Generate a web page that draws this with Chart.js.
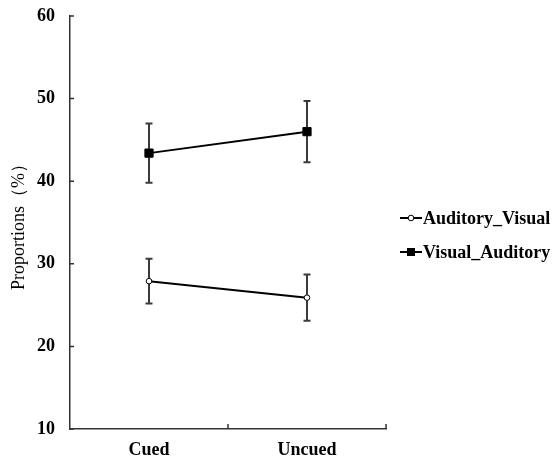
<!DOCTYPE html>
<html lang="en">
<head>
  <meta charset="UTF-8">
  <title>Proportions by cue condition</title>
  <script src="https://cdn.jsdelivr.net/npm/chart.js"></script>
  <style>
    body { margin: 0; background: #fff; }
    #wrap { width: 555px; height: 460px; }
  </style>
</head>
<body>

<div id="wrap"><canvas id="chart" width="555" height="460"></canvas></div>

<script>
  // data
  const conditions = ['Cued', 'Uncued'];
  const seriesNames = ['Auditory_Visual', 'Visual_Auditory'];
  const audVis = [27.9, 25.9];
  const audVisErr = [2.7, 2.8];
  const visAud = [43.4, 46.0];
  const visAudErr = [3.6, 3.7];
  const yTicks = [10, 20, 30, 40, 50, 60];

  const serif = "'Liberation Serif', 'Times New Roman', serif";
  const axisColor = '#333';

  // error bars, drawn under the lines and markers
  const errorBars = {
    id: 'errorBars',
    beforeDatasetsDraw(chart) {
      const { ctx, scales: { x, y } } = chart;
      ctx.save();
      ctx.strokeStyle = '#3a3a3a';
      ctx.lineWidth = 2;
      chart.data.datasets.forEach(ds => {
        ds.data.forEach((v, i) => {
          const px = x.getPixelForValue(i);
          const top = y.getPixelForValue(v + ds.err[i]);
          const bot = y.getPixelForValue(v - ds.err[i]);
          ctx.beginPath();
          ctx.moveTo(px, top); ctx.lineTo(px, bot);
          ctx.moveTo(px - 3.5, top); ctx.lineTo(px + 3.5, top);
          ctx.moveTo(px - 3.5, bot); ctx.lineTo(px + 3.5, bot);
          ctx.stroke();
        });
      });
      ctx.restore();
    }
  };

  // small inward tick marks like the original
  const innerTicks = {
    id: 'innerTicks',
    afterDraw(chart) {
      const { ctx, chartArea, scales: { x, y } } = chart;
      ctx.save();
      ctx.strokeStyle = axisColor;
      ctx.lineWidth = 1.5;
      ctx.beginPath();
      yTicks.forEach(t => {
        const py = y.getPixelForValue(t);
        ctx.moveTo(chartArea.left, py); ctx.lineTo(chartArea.left + 4, py);
      });
      const mid = (x.getPixelForValue(0) + x.getPixelForValue(1)) / 2;
      [mid, chartArea.right].forEach(px => {
        ctx.moveTo(px, chartArea.bottom); ctx.lineTo(px, chartArea.bottom - 5);
      });
      ctx.stroke();
      ctx.restore();
    }
  };

  // legend on the right: line + marker + label
  const sideLegend = {
    id: 'sideLegend',
    afterDraw(chart) {
      const { ctx } = chart;
      const rows = [218, 252];
      ctx.save();
      chart.data.datasets.forEach((ds, i) => {
        const yy = rows[i];
        ctx.strokeStyle = '#000';
        ctx.lineWidth = 2;
        ctx.beginPath();
        ctx.moveTo(400, yy); ctx.lineTo(422, yy);
        ctx.stroke();
        if (ds.pointStyle === 'rect') {
          ctx.fillStyle = '#000';
          ctx.fillRect(407, yy - 4, 8, 8);
        } else {
          ctx.fillStyle = '#fff';
          ctx.lineWidth = 1;
          ctx.beginPath();
          ctx.arc(411, yy, 2.8, 0, Math.PI * 2);
          ctx.fill(); ctx.stroke();
        }
        ctx.fillStyle = '#000';
        ctx.font = 'bold 18px ' + serif;
        ctx.textBaseline = 'middle';
        ctx.textAlign = 'left';
        ctx.fillText(ds.label, 423, yy + 1);
      });
      ctx.restore();
    }
  };

  new Chart(document.getElementById('chart'), {
    type: 'line',
    data: {
      labels: conditions,
      datasets: [
        {
          label: seriesNames[0],
          data: audVis,
          err: audVisErr,
          borderColor: '#000',
          borderWidth: 2,
          pointStyle: 'circle',
          pointRadius: 2.8,
          pointBorderWidth: 1,
          pointBackgroundColor: '#fff',
          pointBorderColor: '#000',
          tension: 0
        },
        {
          label: seriesNames[1],
          data: visAud,
          err: visAudErr,
          borderColor: '#000',
          borderWidth: 2,
          pointStyle: 'rect',
          pointRadius: 5.8,
          pointBorderWidth: 1,
          pointBackgroundColor: '#000',
          pointBorderColor: '#000',
          tension: 0
        }
      ]
    },
    options: {
      responsive: false,
      animation: false,
      layout: { padding: { left: 0, top: 16, right: 169, bottom: 0 } },
      plugins: { legend: { display: false }, tooltip: { enabled: false } },
      scales: {
        x: {
          offset: true,
          grid: { display: false, drawTicks: false },
          border: { display: true, color: axisColor, width: 1.5 },
          ticks: { color: '#000', padding: 11, font: { family: serif, size: 18, weight: 'bold' } },
          afterFit(scale) { scale.height = 31; scale.paddingLeft = 0; scale.paddingRight = 0; }
        },
        y: {
          min: 10,
          max: 60,
          afterBuildTicks(scale) { scale.ticks = yTicks.map(v => ({ value: v })); },
          grid: { display: false, drawTicks: false },
          border: { display: true, color: axisColor, width: 1.5 },
          ticks: { color: '#000', padding: 15, font: { family: serif, size: 18, weight: 'bold' } },
          title: {
            display: true,
            text: 'Proportions（%）',
            color: '#000',
            padding: { top: 8, bottom: 0 },
            font: { family: serif, size: 18, weight: 'normal' }
          },
          afterFit(scale) { scale.width = 70; scale.paddingTop = 0; scale.paddingBottom = 0; }
        }
      }
    },
    plugins: [errorBars, innerTicks, sideLegend]
  });
</script>

</body>
</html>
